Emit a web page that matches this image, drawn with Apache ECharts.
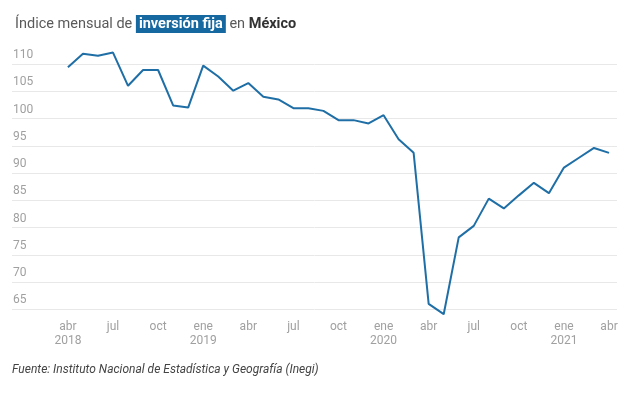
<!DOCTYPE html>
<html><head><meta charset="utf-8">
<script src="https://cdn.jsdelivr.net/npm/echarts@6/dist/echarts.min.js"></script>
<style>html,body{margin:0;padding:0;background:#fff}#c{width:628px;height:395px}</style>
</head><body><div id="c"></div>
<script>
// Months from abr 2018 to abr 2021 (index 0..36)
const monthNames = ['ene','feb','mar','abr','may','jun','jul','ago','sep','oct','nov','dic'];
const startYear = 2018, startMonth = 3; // abril
const values = [109.4,111.9,111.5,112.1,106.0,108.9,108.9,102.4,102.0,109.7,107.7,105.1,
  106.5,104.0,103.5,101.9,101.9,101.4,99.7,99.7,99.1,100.6,96.2,93.7,
  66.0,64.1,78.2,80.3,85.3,83.5,85.9,88.2,86.3,91.0,92.8,94.6,93.7];
const xTicks = [0,3,6,9,12,15,18,21,24,27,30,33,36];
const yTicks = [65,70,75,80,85,90,95,100,105,110];

const data = values.map((v,i)=>[i,v]);
function monthLabel(i){
  const m = (startMonth + i) % 12;
  const y = startYear + Math.floor((startMonth + i)/12);
  const name = monthNames[m];
  if (i===0 || m===0) return name + '\n' + y;
  return name;
}
const font = 'Roboto, "Liberation Sans", sans-serif';
const chart = echarts.init(document.getElementById('c'), null, {renderer:'canvas'});
chart.setOption({
  animation:false,
  title:{
    left:10, top:10,
    text:'{a|Índice mensual de }{b|inversión fija}{a| en }{c|México}',
    textStyle:{
      fontWeight:'normal',
      rich:{
        a:{fontFamily:font,fontSize:14.5,color:'#5a5a5a',fontWeight:'normal'},
        b:{fontFamily:font,fontSize:14.5,color:'#fff',fontWeight:'bold',backgroundColor:'#1568a0',padding:[2,3,1,3]},
        c:{fontFamily:font,fontSize:14.5,color:'#333',fontWeight:'bold'}
      }
    }
  },
  graphic:[{
    type:'text', left:12, top:364,
    style:{text:'Fuente: Instituto Nacional de Estadística y Geografía (Inegi)', font:'italic 12px '+font, fill:'#444'}
  }],
  grid:{left:12, right:11, top:50, bottom:77, containLabel:false},
  xAxis:{
    type:'value', min:-3.72, max:36.53,
    axisLine:{show:false}, axisTick:{show:false}, splitLine:{show:false},
    axisLabel:{
      customValues:xTicks, formatter:v=>monthLabel(Math.round(v)),
      color:'#a0a0a0', fontFamily:font, fontSize:12, lineHeight:14, margin:2
    }
  },
  yAxis:{
    type:'value', min:63.4, max:112.57,
    axisLine:{show:false},
    axisTick:{show:false, customValues:yTicks},
    axisLabel:{
      customValues:yTicks, inside:true, margin:1, verticalAlign:'bottom',
      padding:[0,0,3,0], color:'#a0a0a0', fontFamily:font, fontSize:12
    },
    splitLine:{show:true, lineStyle:{color:'#e8e8e8', width:1}}
  },
  series:[{
    type:'line', data:data, showSymbol:false, symbol:'none',
    lineStyle:{color:'#1f6fa6', width:2}
  }]
});
</script></body></html>
